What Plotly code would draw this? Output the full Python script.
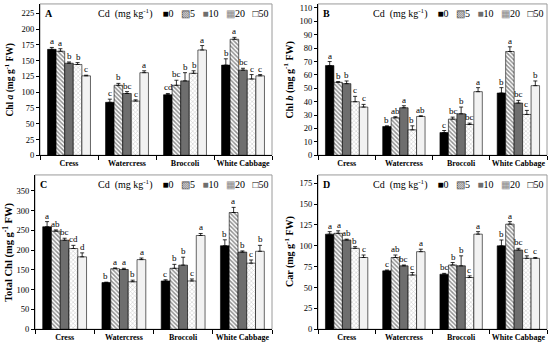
import plotly.graph_objects as go

crops = ["Cress", "Watercress", "Broccoli", "White Cabbage"]
doses = ["0", "5", "10", "20", "50"]

# Chl a (rows = Cd dose, cols = crop)
chla_vals = [[168, 84, 96, 143], [165, 111, 111, 184], [146, 98, 118, 135], [144, 86, 130, 121], [126, 131, 167, 126]]
chla_err = [[3, 5, 2, 10], [4, 3, 8, 3], [2, 3, 13, 3], [3, 2, 4, 7], [1, 3, 7, 2]]
chla_sig = [["a", "c", "cd", "b"], ["a", "b", "bc", "a"], ["b", "bc", "b", "bc"], ["b", "c", "b", "c"], ["c", "a", "a", "c"]]

# Chl b
chlb_vals = [[67, 21.5, 17, 46.5], [54.5, 28, 27, 77.5], [53.5, 35.5, 31, 39], [40, 19, 23, 30.5], [36, 29, 47.5, 52]]
chlb_err = [[3, 0.5, 1.5, 4], [0.5, 0.8, 1.5, 3.5], [2, 1.5, 5, 2], [4, 3, 1, 3], [2, 0.5, 3, 3.5]]
chlb_sig = [["a", "b", "c", "b"], ["b", "ab", "bc", "a"], ["b", "a", "b", "bc"], ["c", "b", "bc", "c"], ["c", "ab", "a", "b"]]

# Total Chl
tot_vals = [[259, 118, 122, 211], [248, 153, 154, 295], [225, 151, 162, 195], [204, 120, 122, 167], [183, 176, 237, 197]]
tot_err = [[13, 1, 3, 15], [3, 2, 10, 13], [5, 3, 20, 3], [8, 4, 5, 8], [10, 4, 5, 15]]
tot_sig = [["a", "b", "c", "b"], ["ab", "a", "b", "a"], ["bc", "a", "b", "b"], ["cd", "b", "c", "c"], ["d", "a", "a", "b"]]

# Car
car_vals = [[114, 70, 66, 100], [115, 86, 77, 126], [107, 76, 76, 95], [97, 65, 62, 85], [86, 93, 114, 85]]
car_err = [[3, 1, 1, 7], [3, 3, 3, 3], [1, 1, 12, 2], [2, 3, 2, 3], [3, 3, 3, 1]]
car_sig = [["a", "c", "bc", "b"], ["a", "ab", "b", "a"], ["ab", "bc", "b", "bc"], ["b", "c", "c", "c"], ["c", "a", "a", "c"]]

FONT = "Liberation Serif, Times New Roman, serif"
W, H = 550, 347
BARGAP = 0.26

styles = [
    dict(color="black"),
    dict(color="white", pattern=dict(shape="\\", fgcolor="#222", bgcolor="white", size=3, solidity=0.5)),
    dict(color="#6e6e6e"),
    dict(color="white", pattern=dict(shape="x", fgcolor="#9a9a9a", bgcolor="white", size=3, solidity=0.35)),
    dict(color="#f2f2f2"),
]

panels = [
    dict(vals=chla_vals, err=chla_err, sig=chla_sig, rng=[0, 240], dtick=25, letter="A",
         title="<b>Chl <i>a</i> (mg g<sup>-1</sup> FW)</b>", tx=10, ts=9.5,
         xd=[40 / W, 272 / W], yd=[1 - 157 / H, 1 - 3 / H]),
    dict(vals=chlb_vals, err=chlb_err, sig=chlb_sig, rng=[0, 113], dtick=10, letter="B",
         title="<b>Chl <i>b</i> (mg g<sup>-1</sup> FW)</b>", tx=289, ts=10,
         xd=[318 / W, 547 / W], yd=[1 - 157 / H, 1 - 3 / H]),
    dict(vals=tot_vals, err=tot_err, sig=tot_sig, rng=[0, 390], dtick=50, letter="C",
         title="<b>Total Chl (mg g<sup>-1</sup> FW)</b>", tx=8, ts=10.5,
         xd=[35 / W, 272 / W], yd=[1 - 334 / H, 1 - 177 / H]),
    dict(vals=car_vals, err=car_err, sig=car_sig, rng=[0, 185], dtick=25, letter="D",
         title="<b>Car (mg g<sup>-1</sup> FW)</b>", tx=289, ts=10,
         xd=[318 / W, 547 / W], yd=[1 - 334 / H, 1 - 177 / H]),
]

fig = go.Figure()
layout = dict(
    width=W, height=H, margin=dict(l=0, r=0, t=0, b=0),
    paper_bgcolor="white", plot_bgcolor="white",
    barmode="group", bargap=BARGAP, bargroupgap=0,
    showlegend=False, font=dict(family=FONT, color="black"),
    annotations=[], shapes=[],
)

sp = "\u00a0"
legend_text = ("Cd" + sp * 2 + "(mg kg<sup>-1</sup>)" + sp * 4 +
               "<span style='color:#000'>■</span>0" + sp * 3 +
               "<span style='color:#444'>▧</span>5" + sp * 3 +
               "<span style='color:#6e6e6e'>■</span>10" + sp * 3 +
               "<span style='color:#888'>▦</span>20" + sp * 3 +
               "<span style='color:#000'>□</span>50")

for k, p in enumerate(panels):
    sfx = "" if k == 0 else str(k + 1)
    xa, ya = "x" + sfx, "y" + sfx
    cat_px = (p["xd"][1] - p["xd"][0]) * W / len(crops)
    slot_px = cat_px * (1 - BARGAP) / len(doses)
    for j, d in enumerate(doses):
        fig.add_trace(go.Bar(
            x=crops, y=p["vals"][j], xaxis=xa, yaxis=ya, offsetgroup=d, name=d,
            marker=dict(line=dict(color="black", width=0.6), **styles[j]),
            error_y=dict(type="data", array=p["err"][j], arrayminus=[0] * len(crops),
                         symmetric=False, color="black", thickness=0.8, width=2),
        ))
        # significance letters above each error bar
        for i, c in enumerate(crops):
            layout["annotations"].append(dict(
                text=p["sig"][j][i], x=c, y=p["vals"][j][i] + p["err"][j][i],
                xref=xa, yref=ya, xanchor="center", yanchor="bottom",
                xshift=round((j - (len(doses) - 1) / 2) * slot_px), yshift=-1,
                showarrow=False,
                font=dict(family=FONT, size=9, color="black")))
    layout["xaxis" + sfx] = dict(
        domain=p["xd"], anchor=ya, type="category", range=[-0.5, 3.5],
        showline=True, linecolor="black", linewidth=1, ticks="outside", ticklen=4,
        tickson="boundaries", tickcolor="black", showgrid=False, zeroline=False,
        tickangle=0, tickfont=dict(family=FONT, size=8, color="black"),
        ticktext=["<b>%s</b>" % c for c in crops], tickvals=crops,
    )
    layout["yaxis" + sfx] = dict(
        domain=p["yd"], anchor=xa, range=p["rng"], dtick=p["dtick"], tick0=0,
        showline=True, linecolor="black", linewidth=1, ticks="outside", ticklen=3,
        tickcolor="black", showgrid=False, zeroline=False,
        tickfont=dict(family=FONT, size=8.5, color="black"),
    )
    layout["shapes"].append(dict(type="rect", xref=xa + " domain", yref=ya + " domain",
                                 x0=0, x1=1, y0=0, y1=1, line=dict(color="#9a9a9a", width=1),
                                 layer="below"))
    layout["annotations"].append(dict(
        text=p["title"], textangle=-90, xref="paper", yref="paper",
        x=p["tx"] / W, y=(p["yd"][0] + p["yd"][1]) / 2, showarrow=False,
        font=dict(family=FONT, size=p["ts"], color="black"), xanchor="center", yanchor="middle"))
    layout["annotations"].append(dict(
        text="<b>%s</b>" % p["letter"], xref=xa + " domain", yref=ya + " domain",
        x=0.012, y=0.985, xanchor="left", yanchor="top", showarrow=False,
        font=dict(family=FONT, size=10, color="black")))
    layout["annotations"].append(dict(
        text=legend_text, xref=xa + " domain", yref=ya + " domain",
        x=0.995, y=0.99, xanchor="right", yanchor="top", showarrow=False,
        font=dict(family=FONT, size=10, color="black")))

fig.update_layout(**layout)
fig.write_html("out.html", config={"displayModeBar": False},
               post_script="document.body.style.margin='0';document.body.style.overflow='hidden';")
